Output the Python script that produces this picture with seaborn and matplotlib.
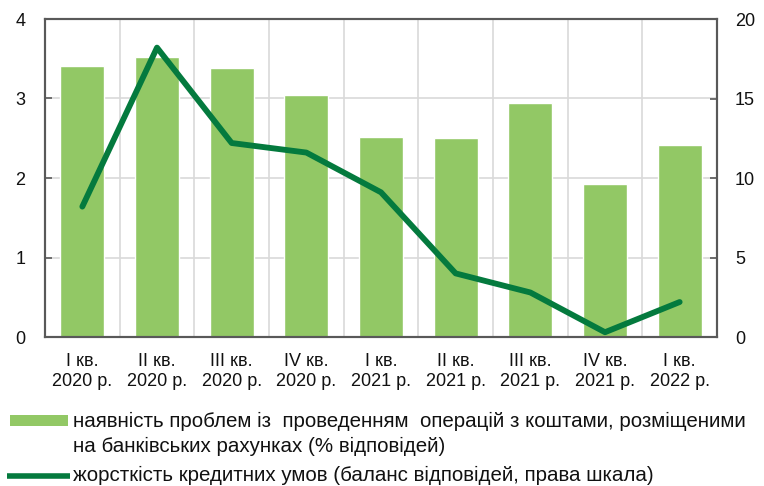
import numpy as np
import pandas as pd
import matplotlib
matplotlib.use("Agg")
import matplotlib.pyplot as plt
from matplotlib.lines import Line2D
from matplotlib.patches import Rectangle
from matplotlib.ticker import FixedLocator
import seaborn as sns

quarters = ["I кв.\n2020 р.", "II кв.\n2020 р.", "III кв.\n2020 р.", "IV кв.\n2020 р.",
            "I кв.\n2021 р.", "II кв.\n2021 р.", "III кв.\n2021 р.", "IV кв.\n2021 р.",
            "I кв.\n2022 р."]
problems_share = [3.41, 3.52, 3.38, 3.05, 2.51, 2.50, 2.94, 1.92, 2.41]
credit_tightness = [8.2, 18.2, 12.2, 11.6, 9.1, 4.0, 2.8, 0.3, 2.2]

bar_label_lines = ["наявність проблем із  проведенням  операцій з коштами, розміщеними",
                   "на банківських рахунках (% відповідей)"]
line_label = "жорсткість кредитних умов (баланс відповідей, права шкала)"

BAR_COLOR = "#92C865"
LINE_COLOR = "#047A3E"
GRID_COLOR = "#D9D9D9"
SPINE_COLOR = "#595959"
TEXT_COLOR = "#111111"

sns.set_theme(style="white")
plt.rcParams["font.family"] = ["Liberation Sans", "DejaVu Sans"]

df = pd.DataFrame({"quarter": quarters, "problems": problems_share,
                   "tightness": credit_tightness})
df["pos"] = np.arange(len(df))

W, H = 764, 486
fig = plt.figure(figsize=(W / 100, H / 100), dpi=100)
ax = fig.add_axes([45 / W, 149 / H, 672 / W, 318 / H])

sns.barplot(data=df, x="quarter", y="problems", color=BAR_COLOR, width=0.59,
            saturation=1, ax=ax, zorder=2)
ax.set_xlim(-0.5, len(df) - 0.5)
ax.set_ylim(0, 4)
ax.set_yticks([0, 1, 2, 3, 4])
ax.set_xlabel("")
ax.set_ylabel("")

# gridlines between categories and at the left-scale ticks
ax.xaxis.set_minor_locator(FixedLocator(np.arange(0.5, len(df) - 0.5, 1.0)))
ax.grid(True, which="minor", axis="x", color=GRID_COLOR, lw=1.2, zorder=0)
ax.grid(True, which="major", axis="y", color=GRID_COLOR, lw=1.2, zorder=0)
ax.grid(False, which="major", axis="x")
ax.set_axisbelow(True)

ax.tick_params(axis="x", which="major", length=0, pad=11.5, labelsize=13,
               labelcolor=TEXT_COLOR)
ax.tick_params(axis="x", which="minor", length=5, direction="in",
               color=SPINE_COLOR, width=1.2)
ax.tick_params(axis="y", which="major", length=5, direction="in", pad=14,
               labelsize=13, labelcolor=TEXT_COLOR, color=SPINE_COLOR, width=1.2)
for lbl in ax.get_xticklabels():
    lbl.set_linespacing(1.2)

for sp in ax.spines.values():
    sp.set_color(SPINE_COLOR)
    sp.set_linewidth(1.5)

ax2 = ax.twinx()
sns.lineplot(data=df, x="pos", y="tightness", color=LINE_COLOR, lw=4.2,
             ax=ax2, zorder=3)
ax2.set_ylim(0, 20)
ax2.set_yticks([0, 5, 10, 15, 20])
ax2.set_xlim(-0.5, len(df) - 0.5)
ax2.set_ylabel("")
ax2.set_xlabel("")
ax2.tick_params(axis="y", length=5, direction="in", pad=13, labelsize=13,
                labelcolor=TEXT_COLOR, color=SPINE_COLOR, width=1.2)
for sp in ax2.spines.values():
    sp.set_color(SPINE_COLOR)
    sp.set_linewidth(1.5)

# legend keys and texts below the plot (pixel positions converted to figure fractions)
def fx(px):
    return px / W

def fy(py):
    return (H - py) / H

fig.add_artist(Rectangle((fx(10), fy(426)), 58 / W, 11 / H, transform=fig.transFigure,
                         facecolor=BAR_COLOR, edgecolor="none"))
fig.add_artist(Line2D([fx(7), fx(70)], [fy(475.5), fy(475.5)], transform=fig.transFigure,
                      color=LINE_COLOR, lw=4, solid_capstyle="butt"))

legend_font = dict(fontsize=14.8, color=TEXT_COLOR, ha="left", va="baseline")
fig.text(fx(73), fy(427), bar_label_lines[0], **legend_font)
fig.text(fx(73), fy(452), bar_label_lines[1], **legend_font)
fig.text(fx(73), fy(481), line_label, **legend_font)

fig.savefig("out.png", dpi=100)
